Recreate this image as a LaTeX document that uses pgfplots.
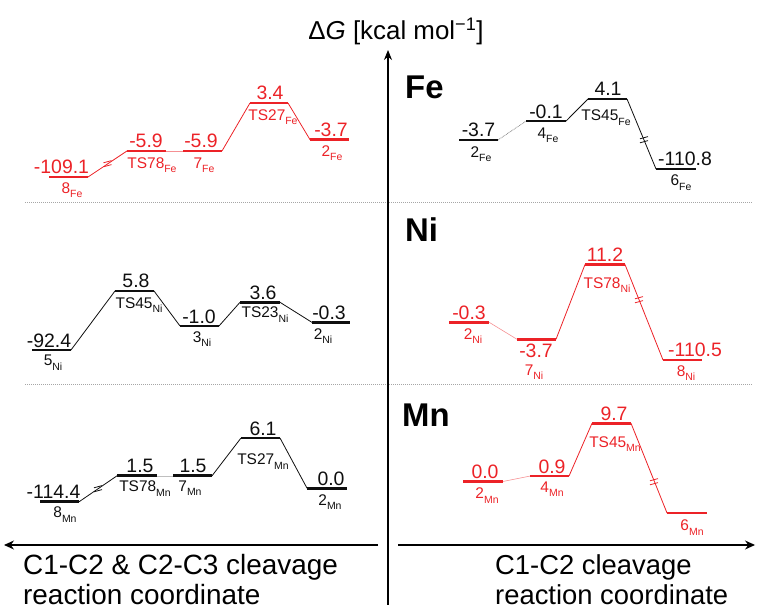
\documentclass[border=0pt]{standalone}
\usepackage{pgfplots}
\pgfplotsset{compat=1.18}
\usepackage{fontspec}
\setmainfont{Liberation Sans}
\usetikzlibrary{arrows.meta}

\definecolor{pathred}{RGB}{236,34,39}
\definecolor{pathblack}{RGB}{15,15,15}

% every layer is an invisible axis of the same size, drawn on top of each other;
% x is a horizontal position (0..758), y is Delta G in kcal/mol for each panel
\pgfplotsset{
  overlay axis/.style={at={(0,0)}, anchor=south west, scale only axis,
    width=758bp, height=610bp, xmin=0, xmax=758, hide axis, clip=false},
}
\tikzset{
  val/.style={font=\fontsize{19.5}{20}\selectfont, inner sep=0pt, anchor=base, yshift=3bp},
  nm/.style={font=\fontsize{15.5}{16}\selectfont, inner sep=0pt, anchor=north},
  conn/.style={line width=0.8bp},
  pale/.style={line width=0.6bp, opacity=0.5},
}
\newcommand\sub[1]{\raisebox{-0.28em}{\fontsize{10.5}{11}\selectfont #1}}

% level: colour, x1, x2, energy, value x, value text, name x, name drop, name
\newcommand\lvl[9]{%
  \addplot[#1, line width=2.8bp] coordinates {(#2,#4) (#3,#4)};
  \node[val, text=#1] at (axis cs:#5,#4) {#6};
  \node[nm, text=#1, yshift=-#8bp] at (axis cs:#7,#4) {#9};
}
% axis break symbol on a connector
\newcommand\brk[3]{%
  \draw[#3, line width=0.8bp] (axis cs:#1,#2) ++(-4bp,1.2bp) -- ++(8bp,2.2bp);
  \draw[#3, line width=0.8bp] (axis cs:#1,#2) ++(-4bp,-2.8bp) -- ++(8bp,2.2bp);
}

\begin{document}
\begin{tikzpicture}

% ---------- frame: axes arrows, separators, titles ----------
\begin{axis}[overlay axis, ymin=0, ymax=610, y dir=reverse]
  \path (axis cs:0,0) rectangle (axis cs:758,610);
  \draw[gray!70, line width=0.8bp, dash pattern=on 0.8bp off 1.2bp]
    (axis cs:25,202) -- (axis cs:752,202);
  \draw[gray!70, line width=0.8bp, dash pattern=on 0.8bp off 1.2bp]
    (axis cs:25,384) -- (axis cs:752,384);
  \draw[line width=1.1bp, -{Stealth[length=10bp,width=8bp]}]
    (axis cs:388,605) -- (axis cs:388,50);
  \draw[line width=1.1bp, -{Stealth[length=10bp,width=9bp]}]
    (axis cs:378,545) -- (axis cs:4,545);
  \draw[line width=1.1bp, -{Stealth[length=10bp,width=9bp]}]
    (axis cs:398,545) -- (axis cs:755,545);
  \node[font=\fontsize{26}{28}\selectfont, inner sep=0pt] at (axis cs:396,31)
    {Δ\textit{G} [kcal mol\textsuperscript{−1}]};
  \node[font=\fontsize{33}{34}\selectfont\bfseries, inner sep=0pt, anchor=west] at (axis cs:405,87) {Fe};
  \node[font=\fontsize{33}{34}\selectfont\bfseries, inner sep=0pt, anchor=west] at (axis cs:405,230) {Ni};
  \node[font=\fontsize{33}{34}\selectfont\bfseries, inner sep=0pt, anchor=west] at (axis cs:402,415) {Mn};
  \node[font=\fontsize{28}{30}\selectfont, inner sep=0pt, anchor=base west] at (axis cs:23,575) {C1-C2 \& C2-C3 cleavage};
  \node[font=\fontsize{28}{30}\selectfont, inner sep=0pt, anchor=base west] at (axis cs:23,605) {reaction coordinate};
  \node[font=\fontsize{27.5}{30}\selectfont, inner sep=0pt, anchor=base west] at (axis cs:495,575) {C1-C2 cleavage};
  \node[font=\fontsize{27.5}{30}\selectfont, inner sep=0pt, anchor=base west] at (axis cs:495,605) {reaction coordinate};
  % breaks of the energy scale
  \brk{107.5}{164}{pathred}
  \brk{644}{140}{pathblack}
  \brk{639}{300}{pathred}
  \brk{98}{489}{pathblack}
  \brk{654}{482}{pathred}
\end{axis}

% ---------- Fe, C1-C2 & C2-C3 cleavage ----------
\begin{axis}[overlay axis, ymin=-94.85, ymax=23.36]
  \addplot[pathred, conn] coordinates {(88,-10.94) (127,-5.9)};
  \addplot[pathred, pale] coordinates {(166,-5.9) (183,-5.9)};
  \addplot[pathred, conn] coordinates {(222,-5.9) (250,3.4)};
  \addplot[pathred, conn] coordinates {(288,3.4) (310,-3.7)};
  \lvl{pathred}{49}{88}{-10.94}{61.5}{-109.1}{72}{5.5}{8\sub{Fe}}
  \lvl{pathred}{127}{166}{-5.9}{146}{-5.9}{152}{6.5}{TS78\sub{Fe}}
  \lvl{pathred}{183}{222}{-5.9}{201}{-5.9}{204}{6.5}{7\sub{Fe}}
  \lvl{pathred}{250}{288}{3.4}{270}{3.4}{273}{6.5}{TS27\sub{Fe}}
  \lvl{pathred}{310}{349}{-3.7}{331}{-3.7}{332}{5.5}{2\sub{Fe}}
\end{axis}

% ---------- Fe, C1-C2 cleavage ----------
\begin{axis}[overlay axis, ymin=-93.05, ymax=22.92]
  \addplot[gray, line width=0.7bp, dash pattern=on 0.8bp off 0.8bp] coordinates {(498,-3.7) (526,-0.1)};
  \addplot[pathblack, conn] coordinates {(566,-0.1) (588,4.1)};
  \addplot[pathblack, conn] coordinates {(627,4.1) (656,-9.21)};
  \lvl{pathblack}{459}{498}{-3.7}{478.5}{-3.7}{481}{6.5}{2\sub{Fe}}
  \lvl{pathblack}{526}{566}{-0.1}{546}{-0.1}{548}{6.5}{4\sub{Fe}}
  \lvl{pathblack}{588}{627}{4.1}{608}{4.1}{606}{11}{TS45\sub{Fe}}
  \lvl{pathblack}{656}{696}{-9.21}{685}{-110.8}{681}{6}{6\sub{Fe}}
\end{axis}

% ---------- Ni, C1-C2 & C2-C3 cleavage ----------
\begin{axis}[overlay axis, ymin=-56.14, ymax=62.3]
  \addplot[pathblack, conn] coordinates {(71,-5.66) (115,5.8)};
  \addplot[pathblack, conn] coordinates {(154,5.8) (180,-1.0)};
  \addplot[pathblack, conn] coordinates {(219,-1.0) (240,3.6)};
  \addplot[pathblack, conn] coordinates {(280,3.6) (312,-0.3)};
  \lvl{pathblack}{32}{71}{-5.66}{49}{-92.4}{53}{5}{5\sub{Ni}}
  \lvl{pathblack}{115}{154}{5.8}{136}{5.8}{139}{6.5}{TS45\sub{Ni}}
  \lvl{pathblack}{180}{219}{-1.0}{199}{-1.0}{202}{5.5}{3\sub{Ni}}
  \lvl{pathblack}{240}{280}{3.6}{263}{3.6}{265}{4.5}{TS23\sub{Ni}}
  \lvl{pathblack}{312}{350}{-0.3}{329}{-0.3}{323}{6}{2\sub{Ni}}
\end{axis}

% ---------- Ni, C1-C2 cleavage ----------
\begin{axis}[overlay axis, ymin=-57.62, ymax=63.89]
  \addplot[pathred, pale] coordinates {(489,-0.3) (517,-3.7)};
  \addplot[pathred, conn] coordinates {(556,-3.7) (585,11.2)};
  \addplot[pathred, conn] coordinates {(625,11.2) (663,-7.82)};
  \lvl{pathred}{449}{489}{-0.3}{469}{-0.3}{473}{6}{2\sub{Ni}}
  \lvl{pathred}{517}{556}{-3.7}{536}{}{534}{25}{7\sub{Ni}}
  \node[font=\fontsize{19.5}{20}\selectfont, inner sep=0pt, anchor=north, text=pathred, yshift=-4.5bp]
    at (axis cs:536,-3.7) {-3.7};
  \lvl{pathred}{585}{625}{11.2}{605}{11.2}{607}{13}{TS78\sub{Ni}}
  \lvl{pathred}{663}{702}{-7.82}{695}{-110.5}{686}{5.5}{8\sub{Ni}}
\end{axis}

% ---------- Mn, C1-C2 & C2-C3 cleavage ----------
\begin{axis}[overlay axis, ymin=-14.82, ymax=59.38]
  \addplot[pathblack, conn] coordinates {(79,-1.66) (117,1.5)};
  \addplot[gray, pale] coordinates {(157,1.5) (173,1.5)};
  \addplot[pathblack, conn] coordinates {(212,1.5) (241,6.1)};
  \addplot[pathblack, conn] coordinates {(280,6.1) (307,0.0)};
  \lvl{pathblack}{40}{79}{-1.66}{53.5}{-114.4}{65}{5}{8\sub{Mn}}
  \lvl{pathblack}{117}{157}{1.5}{140}{1.5}{145}{5}{TS78\sub{Mn}}
  \lvl{pathblack}{173}{212}{1.5}{193}{1.5}{190}{5}{7\sub{Mn}}
  \lvl{pathblack}{241}{280}{6.1}{263}{6.1}{263}{16}{TS27\sub{Mn}}
  \lvl{pathblack}{307}{347}{0.0}{331}{0.0}{330}{6.5}{2\sub{Mn}}
\end{axis}

% ---------- Mn, C1-C2 cleavage ----------
\begin{axis}[overlay axis, ymin=-21.42, ymax=80.25]
  \addplot[pathred, pale] coordinates {(503,0.0) (530,0.9)};
  \addplot[pathred, conn] coordinates {(569,0.9) (592,9.7)};
  \addplot[pathred, conn] coordinates {(631,9.7) (667,-5.25)};
  \lvl{pathred}{463}{503}{0.0}{485}{0.0}{487}{6.5}{2\sub{Mn}}
  \lvl{pathred}{530}{569}{0.9}{552}{0.9}{552}{5.5}{4\sub{Mn}}
  \lvl{pathred}{592}{631}{9.7}{614}{9.7}{615}{13}{TS45\sub{Mn}}
  \lvl{pathred}{667}{707}{-5.25}{687}{}{692}{7}{6\sub{Mn}}
\end{axis}

\end{tikzpicture}
\end{document}
